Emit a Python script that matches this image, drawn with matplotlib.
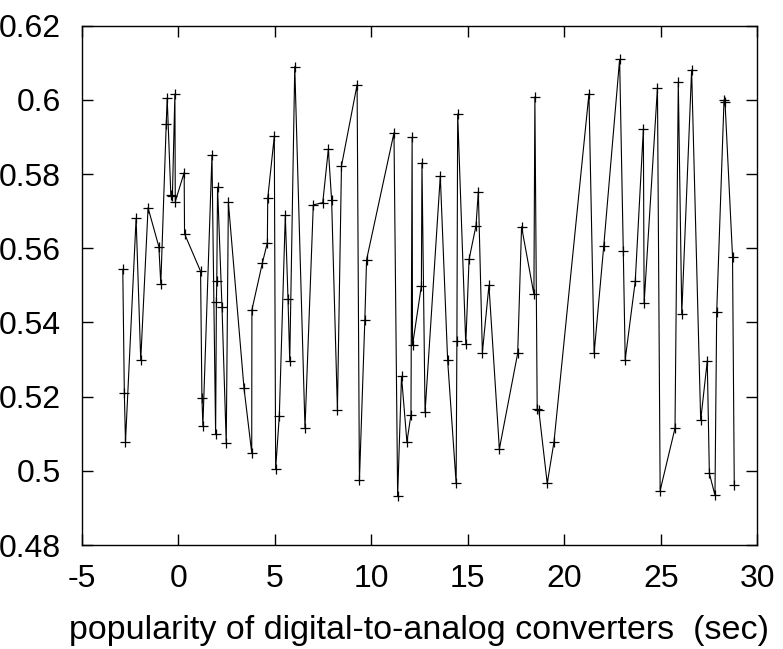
import matplotlib
matplotlib.use("Agg")
import matplotlib.pyplot as plt

x_vals = [-2.87, -2.79, -2.73, -2.18, -1.94, -1.56, -1.00, -0.90, -0.62, -0.57,
          -0.38, -0.30, -0.17, -0.15, 0.31, 0.33, 1.16, 1.23, 1.28, 1.75,
          1.94, 1.98, 2.00, 2.04, 2.27, 2.49, 2.60, 3.41, 3.81, 3.82,
          4.36, 4.62, 4.64, 4.98, 5.05, 5.24, 5.55, 5.69, 5.78, 6.04,
          6.57, 7.00, 7.49, 7.78, 7.95, 8.25, 8.46, 9.27, 9.39, 9.67,
          9.76, 11.18, 11.37, 11.57, 11.85, 12.06, 12.12, 12.14, 12.60, 12.63,
          12.79, 13.58, 13.96, 14.40, 14.44, 14.48, 14.90, 15.07, 15.43, 15.55,
          15.76, 16.10, 16.64, 17.59, 17.79, 18.43, 18.48, 18.60, 18.68, 19.12,
          19.47, 21.28, 21.55, 22.05, 22.87, 23.06, 23.16, 23.68, 24.10, 24.14,
          24.83, 24.97, 25.74, 25.91, 26.09, 26.60, 27.07, 27.41, 27.52, 27.81,
          27.90, 28.28, 28.33, 28.72, 28.81]
y_vals = [0.5543, 0.5211, 0.5078, 0.5681, 0.5298, 0.5709, 0.5604, 0.5503, 0.5934, 0.6005,
          0.5743, 0.5741, 0.6016, 0.5726, 0.5804, 0.5639, 0.5538, 0.5197, 0.5122, 0.5851,
          0.5098, 0.5456, 0.5512, 0.5765, 0.5442, 0.5074, 0.5724, 0.5223, 0.5049, 0.5434,
          0.5560, 0.5615, 0.5735, 0.5902, 0.5004, 0.5149, 0.5689, 0.5463, 0.5295, 0.6090,
          0.5115, 0.5717, 0.5723, 0.5867, 0.5729, 0.5165, 0.5822, 0.6041, 0.4974, 0.5406,
          0.5569, 0.5911, 0.4932, 0.5255, 0.5078, 0.5151, 0.5899, 0.5338, 0.5499, 0.5830,
          0.5158, 0.5795, 0.5298, 0.4967, 0.5351, 0.5962, 0.5341, 0.5570, 0.5661, 0.5753,
          0.5319, 0.5500, 0.5059, 0.5317, 0.5658, 0.5476, 0.6008, 0.5166, 0.5165, 0.4966,
          0.5078, 0.6016, 0.5317, 0.5607, 0.6109, 0.5593, 0.5300, 0.5511, 0.5921, 0.5452,
          0.6033, 0.4947, 0.5115, 0.6048, 0.5423, 0.6081, 0.5136, 0.5296, 0.4993, 0.4934,
          0.5428, 0.6000, 0.5995, 0.5577, 0.4961]

x_ticks = [-5, 0, 5, 10, 15, 20, 25, 30]
y_ticks = [0.48, 0.5, 0.52, 0.54, 0.56, 0.58, 0.6, 0.62]
y_tick_labels = ["0.48", "0.5", "0.52", "0.54", "0.56", "0.58", "0.6", "0.62"]
x_label = "popularity of digital-to-analog converters  (sec)"

plt.rcParams['font.family'] = ['Liberation Sans', 'DejaVu Sans']

fig = plt.figure(figsize=(7.83, 6.49), dpi=100)
ax = fig.add_axes([0.1043, 0.1602, 0.8628, 0.8002])
ax.plot(x_vals, y_vals, color='black', linewidth=0.8, marker='+',
        markersize=7, markeredgewidth=0.9)
ax.set_xlim(-5, 30)
ax.set_ylim(0.48, 0.62)
ax.set_xticks(x_ticks)
ax.set_xticklabels([str(t) for t in x_ticks])
ax.set_yticks(y_ticks)
ax.set_yticklabels(y_tick_labels)
ax.tick_params(direction='in', length=8, width=1, top=True, right=True,
               labelsize=23)
ax.tick_params(axis='x', pad=14)
ax.tick_params(axis='y', pad=15)
for s in ax.spines.values():
    s.set_linewidth(1.0)
ax.set_xlabel(x_label, fontsize=24.5, labelpad=15)
fig.savefig("out.png", dpi=100)
